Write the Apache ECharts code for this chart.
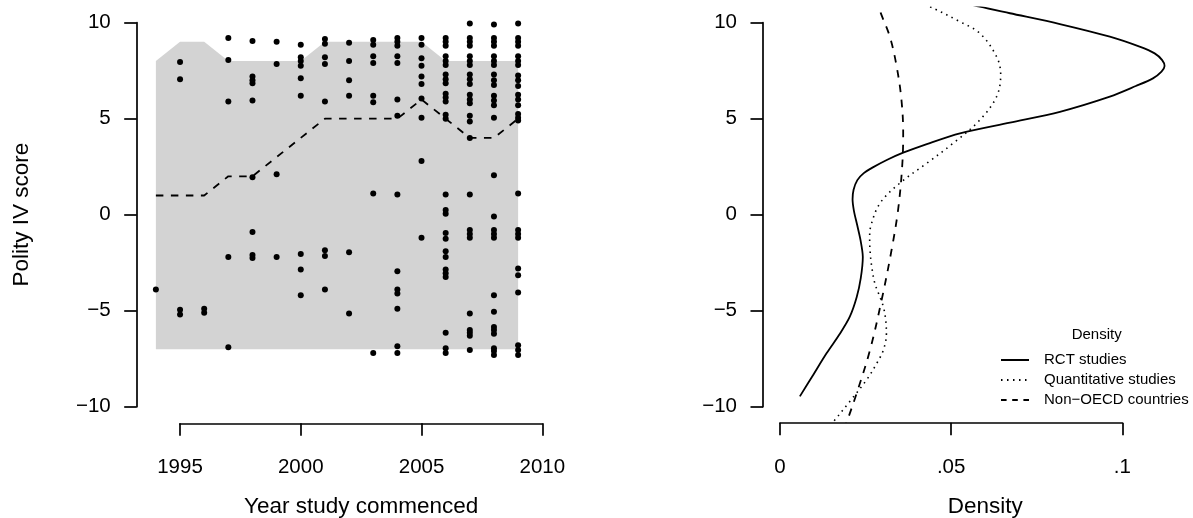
<!DOCTYPE html>
<html>
<head>
<meta charset="utf-8">
<script src="https://cdn.jsdelivr.net/npm/echarts@6/dist/echarts.min.js"></script>
<style>
  html, body { margin: 0; padding: 0; background: #fff; }
  #chart { width: 1193px; height: 518px; }
</style>
</head>
<body>
<div id="chart"></div>
<script>
// Study start years and the Polity IV scores of the studies begun in each year
const studyYears = [1994, 1995, 1996, 1997, 1998, 1999, 2000, 2001, 2002, 2003, 2004, 2005, 2006, 2007, 2008, 2009];
const studyScores = [
  [-3.9],
  [7.95, 7.05, -4.95, -5.2],
  [-4.9, -5.1],
  [9.2, 8.05, 5.9, -2.2, -6.9],
  [9.05, 7.2, 7.0, 6.85, 5.95, 1.95, -0.9, -2.1, -2.25],
  [9.0, 7.85, 2.1, -2.2],
  [8.85, 8.2, 8.0, 7.75, 7.1, 6.2, -2.05, -2.85, -4.2],
  [9.15, 8.9, 8.2, 7.85, 5.9, -1.85, -2.15, -3.9],
  [8.95, 8.0, 7.0, 6.2, -1.95, -5.15],
  [9.1, 8.85, 8.25, 7.9, 6.2, 5.85, 1.1, -7.2],
  [9.2, 9.0, 8.8, 8.25, 7.9, 6.0, 5.15, 1.05, -2.95, -3.9, -4.1, -4.9, -6.85, -7.2],
  [9.2, 8.85, 8.15, 7.75, 7.2, 6.8, 6.05, 5.05, 2.8, -1.2],
  [9.2, 9.0, 8.8, 8.25, 8.0, 7.8, 7.3, 7.05, 6.85, 6.3, 6.1, 5.9, 5.2, 5.0, 1.05, 0.25, 0.05, -0.95, -1.25, -1.9, -2.2, -2.85, -3.05, -3.25, -6.15, -6.95, -7.2],
  [9.95, 9.2, 9.0, 8.8, 8.25, 8.0, 7.8, 7.3, 7.05, 6.8, 6.25, 6.0, 5.8, 5.15, 4.85, 4.0, 1.05, -0.8, -1.0, -1.2, -5.15, -6.0, -6.15, -6.3, -7.05],
  [9.9, 9.2, 9.0, 8.8, 8.25, 8.0, 7.8, 7.3, 7.0, 6.75, 6.2, 5.95, 5.7, 5.05, 2.05, -0.1, -0.8, -1.0, -1.2, -4.2, -5.05, -5.85, -6.0, -6.2, -6.95, -7.1, -7.3],
  [9.95, 9.2, 9.0, 8.8, 8.25, 8.0, 7.8, 7.25, 7.0, 6.7, 6.25, 6.0, 5.7, 5.25, 5.05, 4.9, 1.1, -0.8, -1.0, -1.2, -2.8, -3.15, -4.05, -6.8, -7.05, -7.3]
];

// Range and median of non-OECD country scores per year
const bandUpper = [8, 9, 9, 8, 8, 8, 8, 9, 9, 9, 9, 9, 8, 8, 8, 8];
const bandLower = [-7, -7, -7, -7, -7, -7, -7, -7, -7, -7, -7, -7, -7, -7, -7, -7];
const medianScore = [1, 1, 1, 2, 2, 3, 4, 5, 5, 5, 5, 6, 5, 4, 4, 5];

// Density curves, as [density, Polity IV score]
const rctCurve = [
  [0.0058, -9.46], [0.0095, -8.4], [0.0136, -7.22], [0.0175, -6.2], [0.0204, -5.31],
  [0.0224, -4.3], [0.0236, -3.3], [0.0242, -2.2], [0.0235, -1.3], [0.0225, -0.5],
  [0.0216, 0.2], [0.0212, 0.8], [0.0215, 1.3], [0.0226, 1.8], [0.0244, 2.15],
  [0.0270, 2.45], [0.0312, 2.85], [0.0360, 3.23], [0.0429, 3.68], [0.0526, 4.24],
  [0.0672, 4.8], [0.0818, 5.36], [0.0964, 6.15], [0.1040, 6.7], [0.1090, 7.1],
  [0.1115, 7.45], [0.1124, 7.74], [0.1117, 8.05], [0.1095, 8.4], [0.1051, 8.75],
  [0.0964, 9.27], [0.0818, 9.93], [0.0672, 10.49], [0.0584, 10.83], [0.0500, 11.2]
];
const quantCurve = [
  [0.0135, -11.2], [0.0155, -10.8], [0.0205, -9.7], [0.0253, -8.6], [0.0284, -7.7],
  [0.0302, -7.05], [0.0311, -6.2], [0.0309, -5.5], [0.0302, -4.79], [0.0288, -4.1],
  [0.0277, -3.57], [0.0268, -2.7], [0.0263, -1.84], [0.0262, -1.2], [0.0265, -0.62],
  [0.0292, 0.59], [0.0350, 1.64], [0.0429, 2.68], [0.0506, 3.72], [0.0584, 4.93],
  [0.0633, 6.15], [0.0645, 7.3], [0.0633, 8.23], [0.0584, 9.45], [0.0526, 10.05],
  [0.0448, 10.75], [0.0390, 11.2]
];
const nonOecdCurve = [
  [0.0186, -11.2], [0.0195, -10.8], [0.0224, -9.3], [0.0263, -7.05], [0.0297, -4.44],
  [0.0326, -1.84], [0.0345, 0.24], [0.0357, 2.5], [0.0360, 4.24], [0.0355, 5.97],
  [0.0341, 7.71], [0.0321, 9.27], [0.0294, 10.52], [0.0282, 11.2]
];

// Axis ticks and labels
const yearTicks = [1995, 2000, 2005, 2010];
const scoreTicks = [-10, -5, 0, 5, 10];
const densityTicks = [0, 0.05, 0.1];
const densityTickLabels = ['0', '.05', '.1'];

const seriesNames = ['RCT studies', 'Quantitative studies', 'Non\u2212OECD countries'];

const FONT = 'Liberation Sans, Arial, Helvetica, sans-serif';
const INK = '#000';
const TICK_FONT = 20.5;
const TITLE_FONT = 22.5;

const minusSign = v => (v < 0 ? '\u2212' + Math.abs(v) : String(v));

const axisLineStyle = { color: INK, width: 1.7 };
const DASHED = [7.5, 7.5];
const DOTTED = [1.5, 4.5];

function visibleAxis(ticks, extra) {
  return Object.assign({
    type: 'value',
    min: ticks[0],
    max: ticks[ticks.length - 1],
    interval: ticks[1] - ticks[0],
    axisLine: { show: true, onZero: false, lineStyle: axisLineStyle },
    axisTick: { show: true, length: 12.5, lineStyle: axisLineStyle },
    splitLine: { show: false },
    nameTextStyle: { fontFamily: FONT, fontSize: TITLE_FONT, color: INK },
  }, extra);
}

const scatterData = [];
studyYears.forEach((yr, i) => {
  studyScores[i].forEach(s => scatterData.push([yr, s]));
});

const chart = echarts.init(document.getElementById('chart'), null, { renderer: 'canvas' });

chart.setOption({
  backgroundColor: '#fff',
  animation: false,
  textStyle: { fontFamily: FONT },
  title: {
    text: 'Density',
    left: 1071.7,
    top: 327,
    padding: 0,
    textStyle: { fontFamily: FONT, fontSize: 15, fontWeight: 'normal', color: INK }
  },
  legend: {
    data: [
      { name: seriesNames[0], itemStyle: { opacity: 0 } },
      { name: seriesNames[1], itemStyle: { opacity: 0 } },
      { name: seriesNames[2], itemStyle: { opacity: 0 }, lineStyle: { type: [5.6, 5.6] } }
    ],
    orient: 'vertical',
    left: 1000,
    top: 350,
    padding: 0,
    itemWidth: 28,
    itemHeight: 20,
    itemGap: 0,
    selectedMode: false,
    itemStyle: { opacity: 0, borderWidth: 0 },
    textStyle: { fontFamily: FONT, fontSize: 15, color: INK, lineHeight: 20, padding: [0, 0, 0, 10] }
  },
  grid: [
    // left panel: plotting region
    { left: 141.4, top: 7.3, width: 391.2, height: 414.8, outerBoundsMode: 'none', containLabel: false },
    // left panel: axes
    { left: 180, top: 22.7, width: 362.3, height: 384, outerBoundsMode: 'none', containLabel: false },
    // right panel: plotting region
    { left: 763.6, top: 7.3, width: 443.4, height: 414.8, outerBoundsMode: 'none', containLabel: false },
    // right panel: axes
    { left: 780, top: 22.7, width: 342.3, height: 384, outerBoundsMode: 'none', containLabel: false }
  ],
  xAxis: [
    { gridIndex: 0, type: 'value', min: 1993.4, max: 2009.6, show: false },
    visibleAxis(yearTicks, {
      gridIndex: 1, position: 'bottom', offset: 16.6,
      name: 'Year study commenced', nameLocation: 'middle', nameGap: 71.5,
      axisLabel: { fontFamily: FONT, fontSize: TICK_FONT, color: INK, margin: 34, formatter: v => String(v) }
    }),
    {
      gridIndex: 2, type: 'value', min: -0.0048, max: 0.1248,
      axisLine: { show: false, onZero: false }, axisTick: { show: false }, axisLabel: { show: false }, splitLine: { show: false },
      name: 'Density', nameLocation: 'middle', nameGap: 73,
      nameTextStyle: { fontFamily: FONT, fontSize: TITLE_FONT, color: INK }
    },
    visibleAxis(densityTicks, {
      gridIndex: 3, position: 'bottom', offset: 16,
      axisLabel: {
        fontFamily: FONT, fontSize: TICK_FONT, color: INK, margin: 34,
        formatter: v => {
          const k = densityTicks.findIndex(t => Math.abs(t - v) < 1e-9);
          return k >= 0 ? densityTickLabels[k] : '';
        }
      }
    })
  ],
  yAxis: [
    { gridIndex: 0, type: 'value', min: -10.8, max: 10.8, show: false },
    visibleAxis(scoreTicks, {
      gridIndex: 1, position: 'left', offset: 43.3,
      name: 'Polity IV score', nameLocation: 'middle', nameRotate: 90, nameGap: 103,
      axisLabel: { fontFamily: FONT, fontSize: TICK_FONT, color: INK, margin: 26, formatter: minusSign }
    }),
    { gridIndex: 2, type: 'value', min: -10.8, max: 10.8, show: false },
    visibleAxis(scoreTicks, {
      gridIndex: 3, position: 'left', offset: 17,
      axisLabel: { fontFamily: FONT, fontSize: TICK_FONT, color: INK, margin: 26, formatter: minusSign }
    })
  ],
  series: [
    {
      // grey band between the per-year lower and upper bounds
      type: 'custom',
      xAxisIndex: 0, yAxisIndex: 0,
      silent: true, z: 1,
      data: [0],
      renderItem: (params, api) => {
        const upper = studyYears.map((yr, i) => api.coord([yr, bandUpper[i]]));
        const lower = studyYears.map((yr, i) => api.coord([yr, bandLower[i]])).reverse();
        return { type: 'polygon', shape: { points: upper.concat(lower) }, style: { fill: '#d3d3d3' } };
      }
    },
    {
      type: 'line',
      xAxisIndex: 0, yAxisIndex: 0,
      z: 2, silent: true,
      data: studyYears.map((yr, i) => [yr, medianScore[i]]),
      symbol: 'none',
      lineStyle: { color: INK, width: 1.8, type: DASHED }
    },
    {
      type: 'scatter',
      xAxisIndex: 0, yAxisIndex: 0,
      z: 3, silent: true,
      data: scatterData,
      symbol: 'circle',
      symbolSize: 6,
      itemStyle: { color: INK, opacity: 1 }
    },
    {
      name: seriesNames[0],
      type: 'line',
      xAxisIndex: 2, yAxisIndex: 2,
      data: rctCurve,
      smooth: 0.3,
      symbol: 'none',
      silent: true,
      lineStyle: { color: INK, width: 1.8, type: 'solid' },
      itemStyle: { color: INK }
    },
    {
      name: seriesNames[1],
      type: 'line',
      xAxisIndex: 2, yAxisIndex: 2,
      data: quantCurve,
      smooth: 0.35,
      symbol: 'none',
      silent: true,
      lineStyle: { color: INK, width: 1.6, type: DOTTED },
      itemStyle: { color: INK }
    },
    {
      name: seriesNames[2],
      type: 'line',
      xAxisIndex: 2, yAxisIndex: 2,
      data: nonOecdCurve,
      smooth: 0.35,
      symbol: 'none',
      silent: true,
      lineStyle: { color: INK, width: 1.8, type: DASHED },
      itemStyle: { color: INK }
    }
  ]
});
</script>
</body>
</html>
